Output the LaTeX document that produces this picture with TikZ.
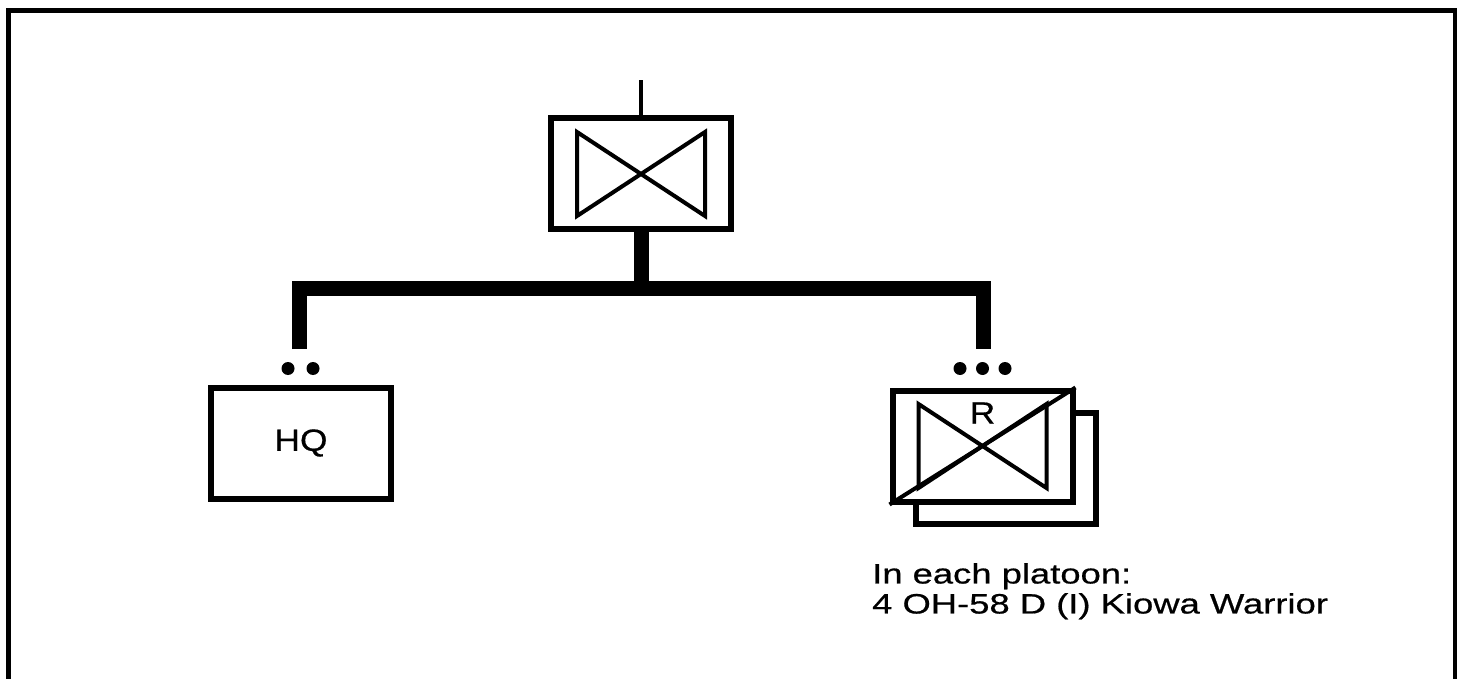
\documentclass[tikz,border=0pt]{standalone}
\usepackage{fontspec}
\setmainfont{Liberation Sans}
\newfontfamily\notefont{Liberation Sans}[FakeStretch=1.3, FakeBold=0.6]
\newfontfamily\unitfont{Liberation Sans}[FakeStretch=1.15, FakeBold=0.6]
\usetikzlibrary{calc}
% crossed-bow mark inside a unit box
\newcommand\reconmark[1]{%
  \draw[thinline] ($(#1.center)+(-64,-42)$) -- ($(#1.center)+(64,42)$)
    -- ($(#1.center)+(64,-42)$) -- ($(#1.center)+(-64,42)$) -- cycle;}
\begin{document}
\begin{tikzpicture}[x=1pt, y=-1pt,
    unitbox/.style={draw, line width=6pt, fill=white, minimum width=180pt,
      minimum height=111pt, inner sep=0pt},
    unitlabel/.style={inner sep=0pt, font=\unitfont\fontsize{30.7pt}{32pt}\selectfont},
    note/.style={inner sep=0pt, align=left, font=\notefont\fontsize{28pt}{30pt}\selectfont},
    thinline/.style={line width=4pt},
    branch/.style={line width=15pt}]
    \useasboundingbox (0,0) rectangle (1457,679);
    \draw[line width=5pt] (8.5,10.5) rectangle (1455,681);

    % troop
    \node[unitbox] (trp) at (641,174) {};
    \reconmark{trp}
    \coordinate (trptop) at (641,80);
    \draw[thinline] (trp.north) -- (trptop);

    % headquarters
    \node[unitbox] (hq) at (301,443) {};
    \node[unitlabel] (hqlabel) at (hq.center) {HQ};
    \foreach \dx in {-13,12}
        \fill ($(hq.north)+(\dx,-16)$) circle (6.5pt);

    % platoons
    \node[unitbox] (pltback) at (1005.5,468) {};
    \node[unitbox] (plt) at (982.5,446) {};
    \reconmark{plt}
    \draw[thinline] (plt.south west) -- (plt.north east);
    \node[unitlabel] (pltlabel) at ($(plt.center)+(0,-33)$) {R};
    \foreach \dx in {-22.5,0,22.5}
        \fill ($(plt.north)+(\dx,-19)$) circle (6.5pt);
    \node[note, anchor=north west] (pltnote) at (872,563)
        {In each platoon:\\4 OH-58 D (I) Kiowa Warrior};

    % branches
    \coordinate (fork) at (641,288.5);
    \coordinate (hqstem) at (299.5,349);
    \coordinate (pltstem) at (983,349);
    \draw[branch] (trp.south) -- (fork);
    \draw[branch] (hqstem) |- (fork) -| (pltstem);
\end{tikzpicture}
\end{document}
